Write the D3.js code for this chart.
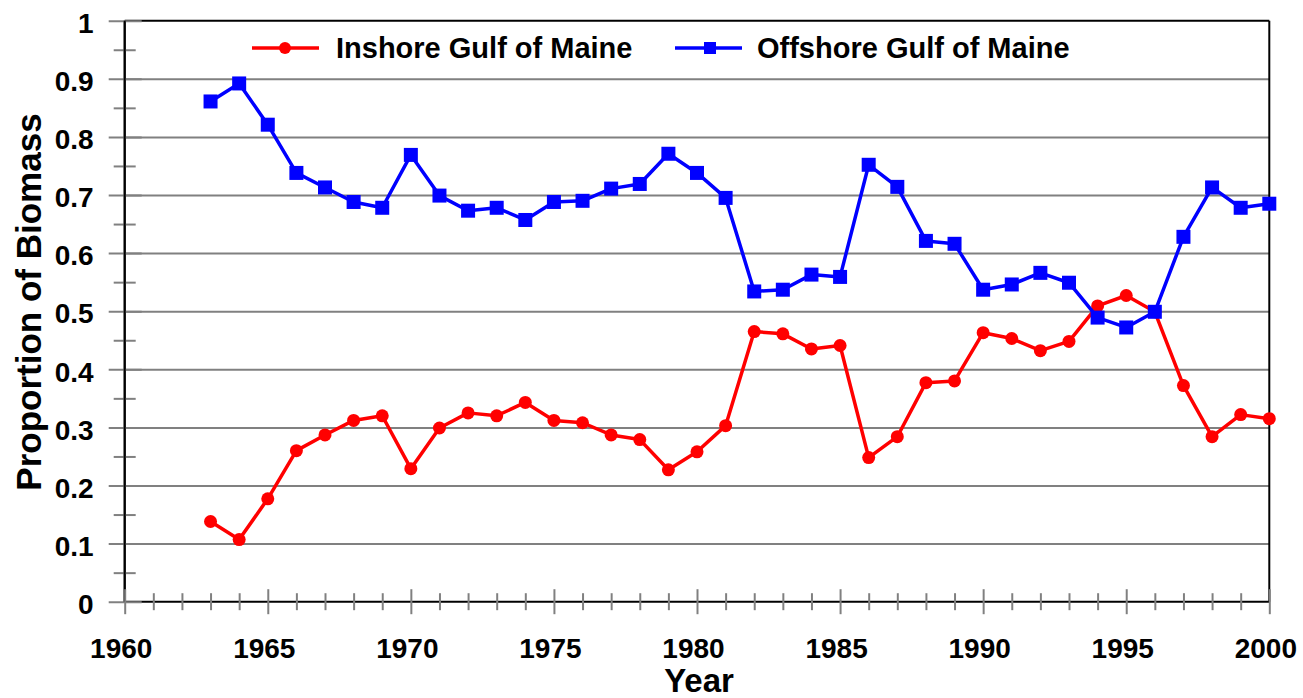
<!DOCTYPE html>
<html><head><meta charset="utf-8">
<script src="https://cdn.jsdelivr.net/npm/d3@7"></script>
<style>
html,body{margin:0;padding:0;background:#fff;}
svg{display:block;font-family:"Liberation Sans",Arial,sans-serif;font-weight:bold;}
</style>
</head><body>
<svg id="chart" width="1303" height="698"></svg>
<script>
const years = [1963,1964,1965,1966,1967,1968,1969,1970,1971,1972,1973,1974,1975,1976,1977,1978,1979,1980,1981,1982,1983,1984,1985,1986,1987,1988,1989,1990,1991,1992,1993,1994,1995,1996,1997,1998,1999,2000];
const inshore = [0.138,0.107,0.177,0.260,0.287,0.312,0.320,0.229,0.299,0.325,0.320,0.343,0.312,0.308,0.287,0.279,0.227,0.258,0.303,0.465,0.461,0.435,0.441,0.248,0.284,0.377,0.380,0.463,0.453,0.432,0.448,0.509,0.527,0.499,0.372,0.284,0.322,0.315];
const offshore = [0.861,0.892,0.821,0.738,0.713,0.688,0.678,0.769,0.699,0.673,0.678,0.657,0.688,0.690,0.711,0.719,0.771,0.738,0.695,0.534,0.537,0.563,0.559,0.752,0.714,0.621,0.616,0.537,0.546,0.566,0.549,0.489,0.472,0.499,0.628,0.713,0.678,0.685];
const seriesNames = ["Inshore Gulf of Maine","Offshore Gulf of Maine"];
const xTickValues = [1960,1965,1970,1975,1980,1985,1990,1995,2000];
const xTickLabels = ["1960","1965","1970","1975","1980","1985","1990","1995","2000"];
const xMinorTicks = [1961,1962,1963,1964,1966,1967,1968,1969,1971,1972,1973,1974,1976,1977,1978,1979,1981,1982,1983,1984,1986,1987,1988,1989,1991,1992,1993,1994,1996,1997,1998,1999];
const yTickValues = [0,0.1,0.2,0.3,0.4,0.5,0.6,0.7,0.8,0.9,1];
const yTickLabels = ["0","0.1","0.2","0.3","0.4","0.5","0.6","0.7","0.8","0.9","1"];
const yMinorTicks = [0.05,0.15,0.25,0.35,0.45,0.55,0.65,0.75,0.85,0.95];
const xTitle = "Year";
const yTitle = "Proportion of Biomass";

const svg = d3.select("#chart");
const L = 124.7, R = 1269.3, T = 20.7, B = 601.7;
const x = d3.scaleLinear().domain([1960, 2000]).range([L, R]);
const y = d3.scaleLinear().domain([0, 1]).range([B, T]);
const GRAY = "#808080";

// gridlines
const grid = svg.append("g").attr("transform", `translate(${L},0)`)
  .call(d3.axisLeft(y).tickValues(yTickValues.slice(1, -1)).tickSize(-(R - L)).tickFormat(""));
grid.select(".domain").remove();
grid.selectAll("line").attr("stroke", GRAY).attr("stroke-width", 2);

// plot frame
const frame = svg.append("g").attr("fill", "none").attr("stroke", "#000").attr("stroke-width", 2);
frame.append("line").attr("x1", L).attr("x2", R).attr("y1", y(1)).attr("y2", y(1));
frame.append("line").attr("x1", L).attr("x2", R).attr("y1", y(0)).attr("y2", y(0));
frame.append("line").attr("x1", L).attr("x2", L).attr("y1", y(1)).attr("y2", y(0));
frame.append("line").attr("x1", R).attr("x2", R).attr("y1", y(1)).attr("y2", y(0));

// y major ticks (crossing)
const yMaj = svg.append("g").attr("transform", `translate(${L},0)`)
  .call(d3.axisLeft(y).tickValues(yTickValues).tickSize(16).tickFormat(""));
yMaj.select(".domain").remove();
yMaj.selectAll("line").attr("x1", 17).attr("stroke", GRAY).attr("stroke-width", 2);
// y minor ticks
const yMin = svg.append("g").attr("transform", `translate(${L},0)`)
  .call(d3.axisLeft(y).tickValues(yMinorTicks).tickSize(11).tickFormat(""));
yMin.select(".domain").remove();
yMin.selectAll("line").attr("x1", 11).attr("stroke", GRAY).attr("stroke-width", 2);
// redraw left axis line on top
svg.append("line").attr("x1", L).attr("x2", L).attr("y1", y(1)).attr("y2", y(0)).attr("stroke", "#000").attr("stroke-width", 2);

// y labels
const yLab = svg.append("g").attr("transform", `translate(${L},0)`)
  .call(d3.axisLeft(y).tickValues(yTickValues).tickSize(0).tickPadding(31).tickFormat((d, i) => yTickLabels[i]));
yLab.select(".domain").remove();
yLab.selectAll("text").attr("font-size", 28).attr("font-family", "Liberation Sans, Arial, sans-serif")
  .attr("font-weight", "bold").attr("fill", "#000").attr("dy", "0.42em");

// x major ticks
const xMaj = svg.append("g").attr("transform", `translate(0,${B})`)
  .call(d3.axisBottom(x).tickValues(xTickValues).tickSize(12.5).tickFormat(""));
xMaj.select(".domain").remove();
xMaj.selectAll("line").attr("y1", -12.5).attr("stroke", GRAY).attr("stroke-width", 2);
// x minor ticks
const xMin = svg.append("g").attr("transform", `translate(0,${B})`)
  .call(d3.axisBottom(x).tickValues(xMinorTicks).tickSize(8.5).tickFormat(""));
xMin.select(".domain").remove();
xMin.selectAll("line").attr("y1", -8.5).attr("stroke", GRAY).attr("stroke-width", 2);

// x labels
const xLab = svg.append("g").attr("transform", `translate(0,${B})`)
  .call(d3.axisBottom(x).tickValues(xTickValues).tickSize(0).tickPadding(36).tickFormat((d, i) => xTickLabels[i]));
xLab.select(".domain").remove();
xLab.selectAll("text").attr("font-size", 28).attr("font-family", "Liberation Sans, Arial, sans-serif")
  .attr("font-weight", "bold").attr("fill", "#000").attr("dx", -4);

// axis titles
svg.append("text").attr("x", 699).attr("y", 692).attr("text-anchor", "middle")
  .attr("font-size", 33).text(xTitle);
svg.append("text").attr("transform", "translate(41,302) rotate(-90)").attr("text-anchor", "middle")
  .attr("font-size", 35).text(yTitle);

// series
const line = d3.line().x((d, i) => x(years[i])).y(d => y(d));
svg.append("path").datum(inshore).attr("d", line).attr("fill", "none")
  .attr("stroke", "#FF0000").attr("stroke-width", 3.5).attr("stroke-linejoin", "round");
svg.append("g").selectAll("circle").data(inshore).join("circle")
  .attr("cx", (d, i) => x(years[i])).attr("cy", d => y(d)).attr("r", 6.5).attr("fill", "#FF0000");

svg.append("path").datum(offshore).attr("d", line).attr("fill", "none")
  .attr("stroke", "#0000FF").attr("stroke-width", 3.5).attr("stroke-linejoin", "round");
const S = 14;
svg.append("g").selectAll("rect").data(offshore).join("rect")
  .attr("x", (d, i) => x(years[i]) - S / 2).attr("y", d => y(d) - S / 2)
  .attr("width", S).attr("height", S).attr("fill", "#0000FF");

// legend
const lg = svg.append("g");
lg.append("line").attr("x1", 252).attr("x2", 319).attr("y1", 48).attr("y2", 48).attr("stroke", "#FF0000").attr("stroke-width", 3.5);
lg.append("circle").attr("cx", 285).attr("cy", 48).attr("r", 6).attr("fill", "#FF0000");
lg.append("text").attr("x", 336).attr("y", 58).attr("font-size", 29).text(seriesNames[0]);
lg.append("line").attr("x1", 675).attr("x2", 742).attr("y1", 48).attr("y2", 48).attr("stroke", "#0000FF").attr("stroke-width", 3.5);
lg.append("rect").attr("x", 710 - 6).attr("y", 48 - 6).attr("width", 12).attr("height", 12).attr("fill", "#0000FF");
lg.append("text").attr("x", 757).attr("y", 58).attr("font-size", 29).text(seriesNames[1]);
</script>
</body></html>
